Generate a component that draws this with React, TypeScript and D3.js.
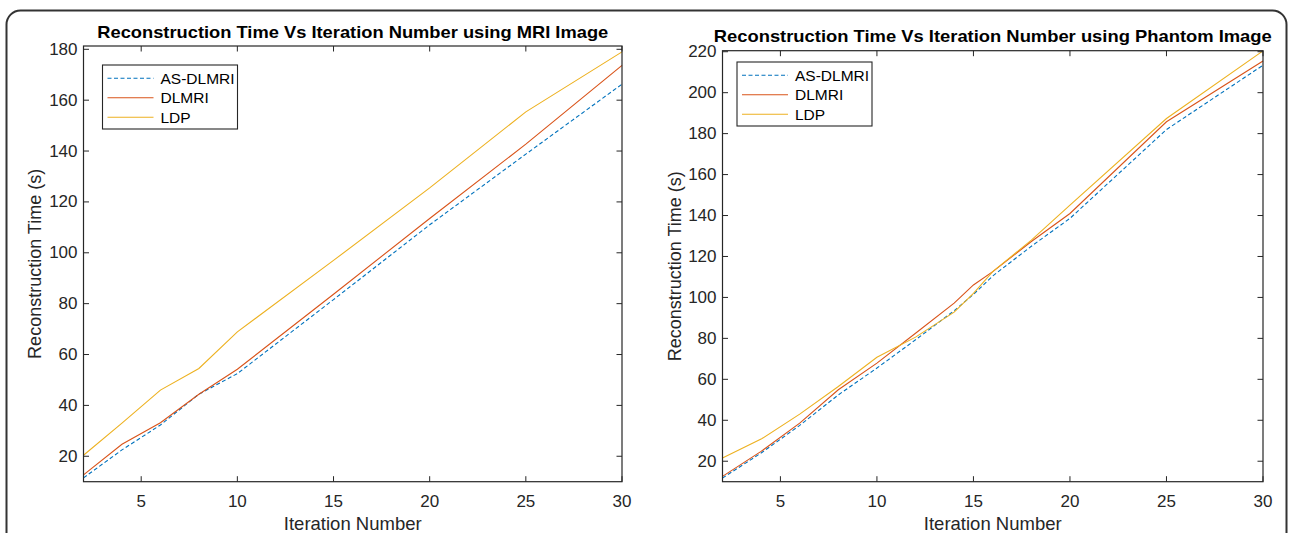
import React, { useEffect, useRef } from 'react';
import * as d3 from 'd3';

// MRI image panel
const iterMRI = [2, 4, 6, 8, 10, 15, 20, 25, 30];
const asdlmriMRI = [11.5, 22.5, 32.3, 44.4, 52.5, 81.6, 111, 138.8, 166.3];
const dlmriMRI = [12.7, 24.7, 33.2, 44.4, 54.2, 83.7, 113.5, 142.7, 173.7];
const ldpMRI = [20.4, 33, 46, 54.5, 68.9, 97, 125.5, 155.4, 179];
const yTicksMRI = [20, 40, 60, 80, 100, 120, 140, 160, 180];

// Phantom image panel
const iterPhantom = [2, 4, 6, 8, 10, 12, 14, 15, 16, 18, 20, 25, 30];
const asdlmriPhantom = [11.8, 24, 37.5, 52.4, 65.5, 79.3, 93.5, 101.5, 110.5, 125, 138.6, 182, 213.4];
const dlmriPhantom = [12.6, 24.8, 38.6, 54.9, 67.9, 82.5, 97.2, 106.1, 112.6, 127.3, 141, 185.8, 215.5];
const ldpPhantom = [21.6, 30.8, 43, 56.5, 70.8, 80.6, 92.8, 102, 112.6, 128, 145.1, 187.4, 220.4];
const yTicksPhantom = [20, 40, 60, 80, 100, 120, 140, 160, 180, 200, 220];

const xTicks = [5, 10, 15, 20, 25, 30];
const seriesNames = ['AS-DLMRI', 'DLMRI', 'LDP'];
const seriesColors = ['#0072BD', '#D95319', '#EDB120'];
const seriesDash = ['4,2.5', null, null];

const FONT = '"Liberation Sans", Arial, Helvetica, sans-serif';
const AXIS = '#262626';

const App = () => {
  const svgRef = useRef(null);

  useEffect(() => {
    if (!svgRef.current) return;
    const svg = d3.select(svgRef.current);
    svg.selectAll('*').remove();

    // panel border
    svg.append('rect')
      .attr('x', 6.5).attr('y', 10.5)
      .attr('width', 1280).attr('height', 620)
      .attr('rx', 14)
      .attr('fill', 'none')
      .attr('stroke', '#333')
      .attr('stroke-width', 2);

    drawChart(svg, {
      left: 83.5, right: 622, top: 46, bottom: 481.7,
      yDomain: [10, 181.3],
      yTicks: yTicksMRI,
      x: iterMRI,
      series: [asdlmriMRI, dlmriMRI, ldpMRI],
      title: 'Reconstruction Time Vs Iteration Number using MRI Image',
      titleWidth: 511,
      titleY: 37.5,
      yLabelX: 35,
      legend: { x: 102.5, y: 65, w: 135, h: 64, rowY: [78.3, 97.8, 117.3] },
    });

    drawChart(svg, {
      left: 722.5, right: 1263, top: 50.7, bottom: 481.7,
      yDomain: [10, 220.5],
      yTicks: yTicksPhantom,
      x: iterPhantom,
      series: [asdlmriPhantom, dlmriPhantom, ldpPhantom],
      title: 'Reconstruction Time Vs Iteration Number using Phantom Image',
      titleWidth: 558,
      titleY: 42,
      yLabelX: 675,
      legend: { x: 737, y: 62, w: 135, h: 64, rowY: [75.3, 94.8, 114.3] },
    });
  }, []);

  const drawChart = (svg, cfg) => {
    const x = d3.scaleLinear().domain([2, 30]).range([cfg.left, cfg.right]);
    const y = d3.scaleLinear().domain(cfg.yDomain).range([cfg.bottom, cfg.top]);
    const g = svg.append('g');
    const tick = 5.5;

    // lines
    cfg.series.forEach((vals, i) => {
      const line = d3.line()
        .x((d) => x(d[0]))
        .y((d) => y(d[1]));
      g.append('path')
        .datum(cfg.x.map((v, j) => [v, vals[j]]))
        .attr('d', line)
        .attr('fill', 'none')
        .attr('stroke', seriesColors[i])
        .attr('stroke-width', 1.1)
        .attr('stroke-dasharray', seriesDash[i]);
    });

    // box
    g.append('rect')
      .attr('x', cfg.left).attr('y', cfg.top)
      .attr('width', cfg.right - cfg.left)
      .attr('height', cfg.bottom - cfg.top)
      .attr('fill', 'none')
      .attr('stroke', AXIS)
      .attr('stroke-width', 1.2);

    // x ticks (bottom and top, inward)
    xTicks.forEach((t) => {
      const px = x(t);
      g.append('line')
        .attr('x1', px).attr('x2', px)
        .attr('y1', cfg.bottom).attr('y2', cfg.bottom - tick)
        .attr('stroke', AXIS);
      g.append('line')
        .attr('x1', px).attr('x2', px)
        .attr('y1', cfg.top).attr('y2', cfg.top + tick)
        .attr('stroke', AXIS);
      g.append('text')
        .attr('x', px)
        .attr('y', cfg.bottom + 25)
        .attr('text-anchor', 'middle')
        .style('font-family', FONT)
        .style('font-size', '17px')
        .style('fill', AXIS)
        .text(t);
    });

    // y ticks (left and right, inward)
    cfg.yTicks.forEach((t) => {
      const py = y(t);
      g.append('line')
        .attr('x1', cfg.left).attr('x2', cfg.left + tick)
        .attr('y1', py).attr('y2', py)
        .attr('stroke', AXIS);
      g.append('line')
        .attr('x1', cfg.right).attr('x2', cfg.right - tick)
        .attr('y1', py).attr('y2', py)
        .attr('stroke', AXIS);
      g.append('text')
        .attr('x', cfg.left - 6)
        .attr('y', py)
        .attr('text-anchor', 'end')
        .attr('dominant-baseline', 'central')
        .style('font-family', FONT)
        .style('font-size', '17px')
        .style('fill', AXIS)
        .text(t);
    });

    const cx = (cfg.left + cfg.right) / 2;

    // title
    g.append('text')
      .attr('x', cx)
      .attr('y', cfg.titleY)
      .attr('text-anchor', 'middle')
      .attr('textLength', cfg.titleWidth)
      .attr('lengthAdjust', 'spacingAndGlyphs')
      .style('font-family', FONT)
      .style('font-size', '17px')
      .style('font-weight', 'bold')
      .style('fill', '#000')
      .text(cfg.title);

    // axis labels
    g.append('text')
      .attr('x', cx)
      .attr('y', cfg.bottom + 48)
      .attr('text-anchor', 'middle')
      .style('font-family', FONT)
      .style('font-size', '18.5px')
      .style('fill', AXIS)
      .text('Iteration Number');

    g.append('text')
      .attr('transform', `translate(${cfg.yLabelX}, ${(cfg.top + cfg.bottom) / 2}) rotate(-90)`)
      .attr('text-anchor', 'middle')
      .attr('dominant-baseline', 'central')
      .style('font-family', FONT)
      .style('font-size', '18px')
      .style('fill', AXIS)
      .text('Reconstruction Time (s)');

    // legend
    const lg = cfg.legend;
    g.append('rect')
      .attr('x', lg.x).attr('y', lg.y)
      .attr('width', lg.w).attr('height', lg.h)
      .attr('fill', '#fff')
      .attr('stroke', AXIS)
      .attr('stroke-width', 1.1);
    seriesNames.forEach((name, i) => {
      const ry = lg.rowY[i];
      g.append('line')
        .attr('x1', lg.x + 5).attr('x2', lg.x + 51)
        .attr('y1', ry).attr('y2', ry)
        .attr('stroke', seriesColors[i])
        .attr('stroke-width', 1.1)
        .attr('stroke-dasharray', seriesDash[i]);
      g.append('text')
        .attr('x', lg.x + 58)
        .attr('y', ry)
        .attr('dominant-baseline', 'central')
        .style('font-family', FONT)
        .style('font-size', '15.5px')
        .style('fill', '#000')
        .text(name);
    });
  };

  return (
    <div style={{ position: 'absolute', left: 0, top: 0 }}>
      <svg ref={svgRef} width={1290} height={533} style={{ display: 'block', background: '#fff' }} />
    </div>
  );
};

export default App;
